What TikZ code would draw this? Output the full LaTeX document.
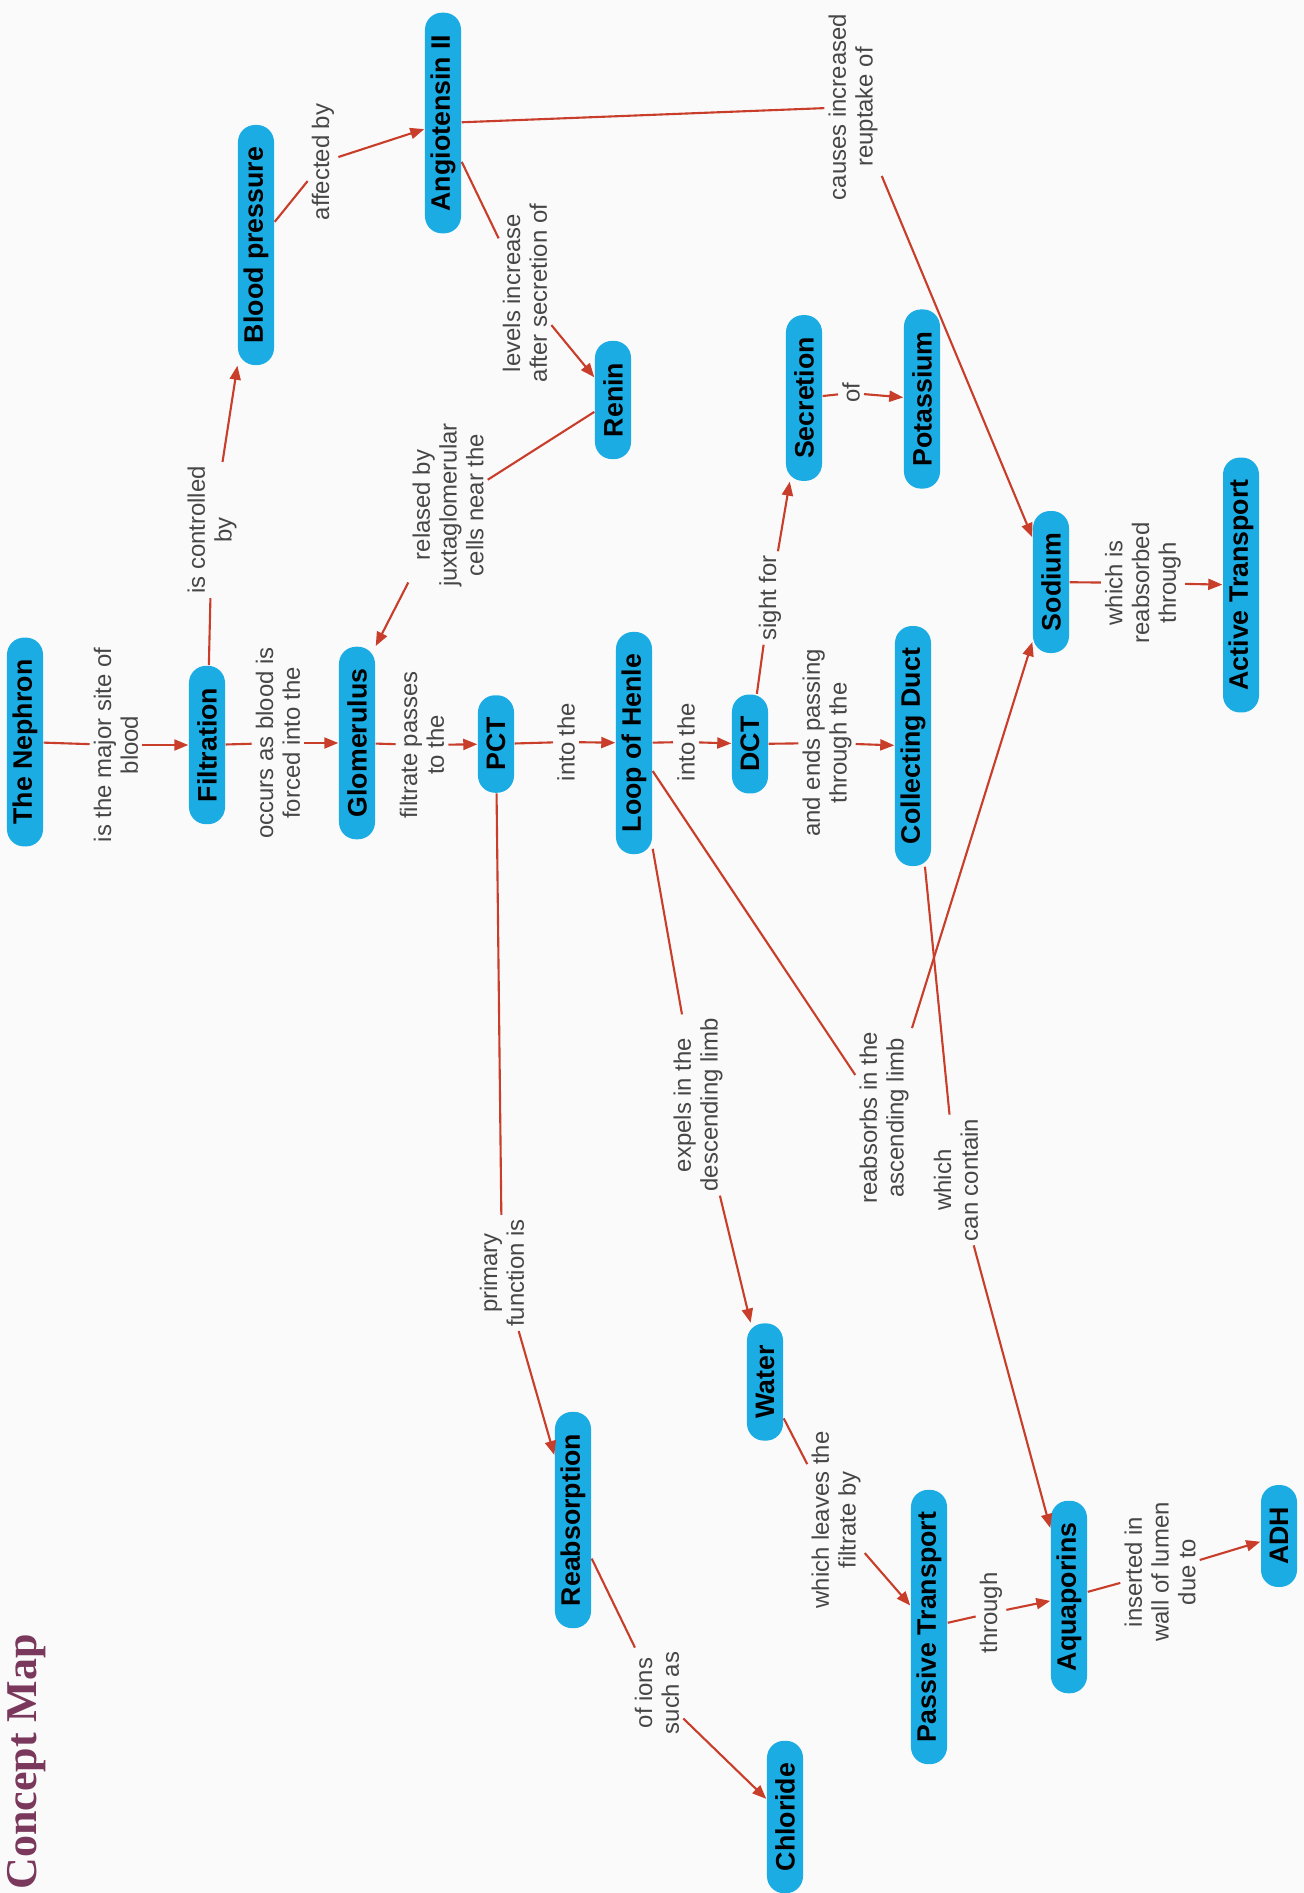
\documentclass[tikz,border=0pt]{standalone}
\usepackage{fontspec}
\setmainfont{Liberation Sans}
\newfontfamily\titlefont{Liberation Serif}
\usetikzlibrary{arrows.meta}

\definecolor{cmapblue}{RGB}{27,172,228}
\definecolor{cmapred}{RGB}{200,62,42}
\definecolor{cmaptext}{RGB}{70,70,70}
\definecolor{cmaptitle}{RGB}{122,56,92}
\definecolor{cmapbg}{RGB}{250,250,250}

\begin{document}
\begin{tikzpicture}[x=0.01cm,y=-0.01cm,>={Triangle[length=0.14cm,width=0.11cm]},
	concept/.style={rotate=90,fill=cmapblue,rounded corners=0.17cm,minimum height=0.36cm,
		inner xsep=0.22cm,inner ysep=0pt,font=\bfseries\fontsize{7.6}{9}\selectfont},
	linkname/.style={rotate=90,align=center,text=cmaptext,inner sep=1pt,
		font=\fontsize{6.8}{7.6}\selectfont},
	link/.style={draw=cmapred,line width=0.6pt},
	linkto/.style={link,->}]

\fill[cmapbg] (0,0) rectangle (1304,1893);
\useasboundingbox (0,0) rectangle (1304,1893);

\node[rotate=90,inner sep=0pt,text=cmaptitle,font=\titlefont\bfseries\fontsize{12.5}{14}\selectfont] (title) at (27,1762) {Concept Map};

% concepts
\node[concept] (nephron) at (25,742) {The Nephron};
\node[concept] (filtration) at (207,745) {Filtration};
\node[concept] (glomerulus) at (357,743) {Glomerulus};
\node[concept] (pct) at (496,744) {PCT};
\node[concept] (loop) at (634,743) {Loop of Henle};
\node[concept] (dct) at (750,744) {DCT};
\node[concept] (duct) at (913,746) {Collecting Duct};
\node[concept] (bp) at (256,245) {Blood pressure};
\node[concept] (angio) at (443,123) {Angiotensin II};
\node[concept] (renin) at (613,400) {Renin};
\node[concept] (secretion) at (804,398) {Secretion};
\node[concept] (potassium) at (922,399) {Potassium};
\node[concept] (sodium) at (1051,582) {Sodium};
\node[concept] (active) at (1241,585) {Active Transport};
\node[concept] (reabs) at (573,1520) {Reabsorption};
\node[concept] (chloride) at (785,1817) {Chloride};
\node[concept] (water) at (765,1382) {Water};
\node[concept] (passive) at (929,1627) {Passive Transport};
\node[concept] (aqua) at (1069,1597) {Aquaporins};
\node[concept] (adh) at (1279,1536) {ADH};

% linking phrases
\node[linkname] (siteof) at (116,745) {is the major site of\\blood};
\node[linkname] (controlled) at (212,530) {is controlled\\by};
\node[linkname] (occurs) at (278,743) {occurs as blood is\\forced into the};
\node[linkname] (affected) at (323,162) {affected by};
\node[linkname] (levels) at (525,293) {levels increase\\after secretion of};
\node[linkname] (relased) at (448,505) {relased by\\juxtaglomerular\\cells near the};
\node[linkname] (passes) at (422,745) {filtrate passes\\to the};
\node[linkname] (intoa) at (566,742) {into the};
\node[linkname] (intob) at (686,742) {into the};
\node[linkname] (sight) at (770,598) {sight for};
\node[linkname] (ofk) at (851,393) {of};
\node[linkname] (ends) at (827,743) {and ends passing\\through the};
\node[linkname] (causes) at (853,107) {causes increased\\reuptake of};
\node[linkname] (reabsthrough) at (1143,583) {which is\\reabsorbed\\through};
\node[linkname] (primary) at (502,1273) {primary\\function is};
\node[linkname] (expels) at (698,1105) {expels in the\\descending limb};
\node[linkname] (ascending) at (884,1118) {reabsorbs in the\\ascending limb};
\node[linkname] (contain) at (956,1180) {which\\can contain};
\node[linkname] (ions) at (657,1693) {of ions\\such as};
\node[linkname] (leaves) at (836,1520) {which leaves the\\filtrate by};
\node[linkname] (through) at (991,1613) {through};
\node[linkname] (inserted) at (1160,1572) {inserted in\\wall of lumen\\due to};

% connections
\draw[link] (nephron) -- (siteof);
\draw[linkto] (siteof) -- (filtration);
\draw[link] (filtration) -- (occurs);
\draw[linkto] (occurs) -- (glomerulus);
\draw[link] (glomerulus) -- (passes);
\draw[linkto] (passes) -- (pct);
\draw[link] (pct) -- (intoa);
\draw[linkto] (intoa) -- (loop);
\draw[link] (loop) -- (intob);
\draw[linkto] (intob) -- (dct);
\draw[link] (dct) -- (ends);
\draw[linkto] (ends) -- (duct);

\draw[link] (filtration) -- (controlled);
\draw[linkto] (controlled) -- (bp);
\draw[link] (bp) -- (affected);
\draw[linkto] (affected) -- (angio);
\draw[link] (angio) -- (levels);
\draw[linkto] (levels) -- (renin);
\draw[link] (renin) -- (relased);
\draw[linkto] (relased) -- (glomerulus.south east);
\draw[link] (angio) -- (causes);
\draw[linkto] (causes) -- (sodium);

\draw[link] (dct) -- (sight);
\draw[linkto] (sight) -- (secretion);
\draw[link] (secretion) -- (ofk);
\draw[linkto] (ofk) -- (potassium);
\draw[link] (sodium) -- (reabsthrough);
\draw[linkto] (reabsthrough) -- (active);

\draw[link] (pct) -- (primary);
\draw[linkto] (primary) -- (reabs);
\draw[link] (reabs) -- (ions);
\draw[linkto] (ions) -- (chloride);
\draw[link] (loop) -- (expels);
\draw[linkto] (expels) -- (water);
\draw[link] (loop) -- (ascending);
\draw[linkto] (ascending) -- (sodium);
\draw[link] (duct) -- (contain);
\draw[linkto] (contain) -- (aqua);
\draw[link] (water) -- (leaves);
\draw[linkto] (leaves) -- (passive);
\draw[link] (passive) -- (through);
\draw[linkto] (through) -- (aqua);
\draw[link] (aqua) -- (inserted);
\draw[linkto] (inserted) -- (adh);
\end{tikzpicture}
\end{document}
